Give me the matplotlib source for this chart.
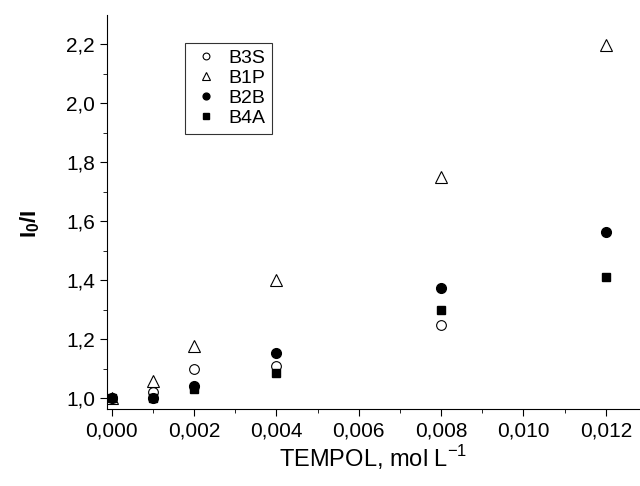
import matplotlib
matplotlib.use("Agg")
import matplotlib.pyplot as plt
from matplotlib.ticker import MultipleLocator, FuncFormatter

plt.rcParams['font.family'] = ['Liberation Sans', 'DejaVu Sans']

conc = [0.0, 0.001, 0.002, 0.004, 0.008, 0.012]
b3s = [1.0, 1.02, 1.10, 1.108, 1.247]
b1p = [1.0, 1.057, 1.176, 1.40, 1.748, 2.198]
b2b = [1.0, 1.0, 1.04, 1.152, 1.372, 1.563]
b4a = [1.0, 1.0, 1.03, 1.085, 1.30, 1.41]

fig = plt.figure(figsize=(6.4, 4.86), dpi=100)
ax = fig.add_axes([0.167, 0.158, 0.833, 0.811])

ax.plot(conc[:len(b3s)], b3s, 'o', ms=7, mfc='white', mec='black', mew=0.8, label='B3S')
ax.plot(conc, b1p, '^', ms=8, mfc='white', mec='black', mew=0.8, label='B1P')
ax.plot(conc, b2b, 'o', ms=7, color='black', label='B2B')
ax.plot(conc, b4a, 's', ms=6, color='black', label='B4A')

ax.set_xlim(-0.00012, 0.01283)
ax.set_ylim(0.963, 2.298)

ax.spines['top'].set_visible(False)
ax.spines['right'].set_visible(False)

ax.xaxis.set_major_locator(MultipleLocator(0.002))
ax.xaxis.set_minor_locator(MultipleLocator(0.001))
ax.yaxis.set_major_locator(MultipleLocator(0.2))
ax.yaxis.set_minor_locator(MultipleLocator(0.1))
ax.xaxis.set_major_formatter(FuncFormatter(lambda v, p: f"{v:.3f}".replace('.', ',')))
ax.yaxis.set_major_formatter(FuncFormatter(lambda v, p: f"{v:.1f}".replace('.', ',')))
ax.tick_params(which='major', length=5, labelsize=15)
ax.tick_params(which='minor', length=3)

ax.set_xlabel('TEMPOL, mol L$^{\\mathregular{-1}}$', fontsize=17, labelpad=2)
ax.set_ylabel('I$_\\mathregular{0}$/I', fontsize=16, fontweight='bold')
ax.yaxis.set_label_coords(-0.122, 0.47)

leg = ax.legend(loc='upper left', bbox_to_anchor=(0.128, 0.955), fontsize=14,
                frameon=True, fancybox=False, edgecolor='black', handletextpad=0.4,
                borderpad=0.35, labelspacing=0.12, markerscale=0.7, handlelength=1.5)
leg.get_frame().set_linewidth(0.8)

fig.savefig('out.png', dpi=100)
